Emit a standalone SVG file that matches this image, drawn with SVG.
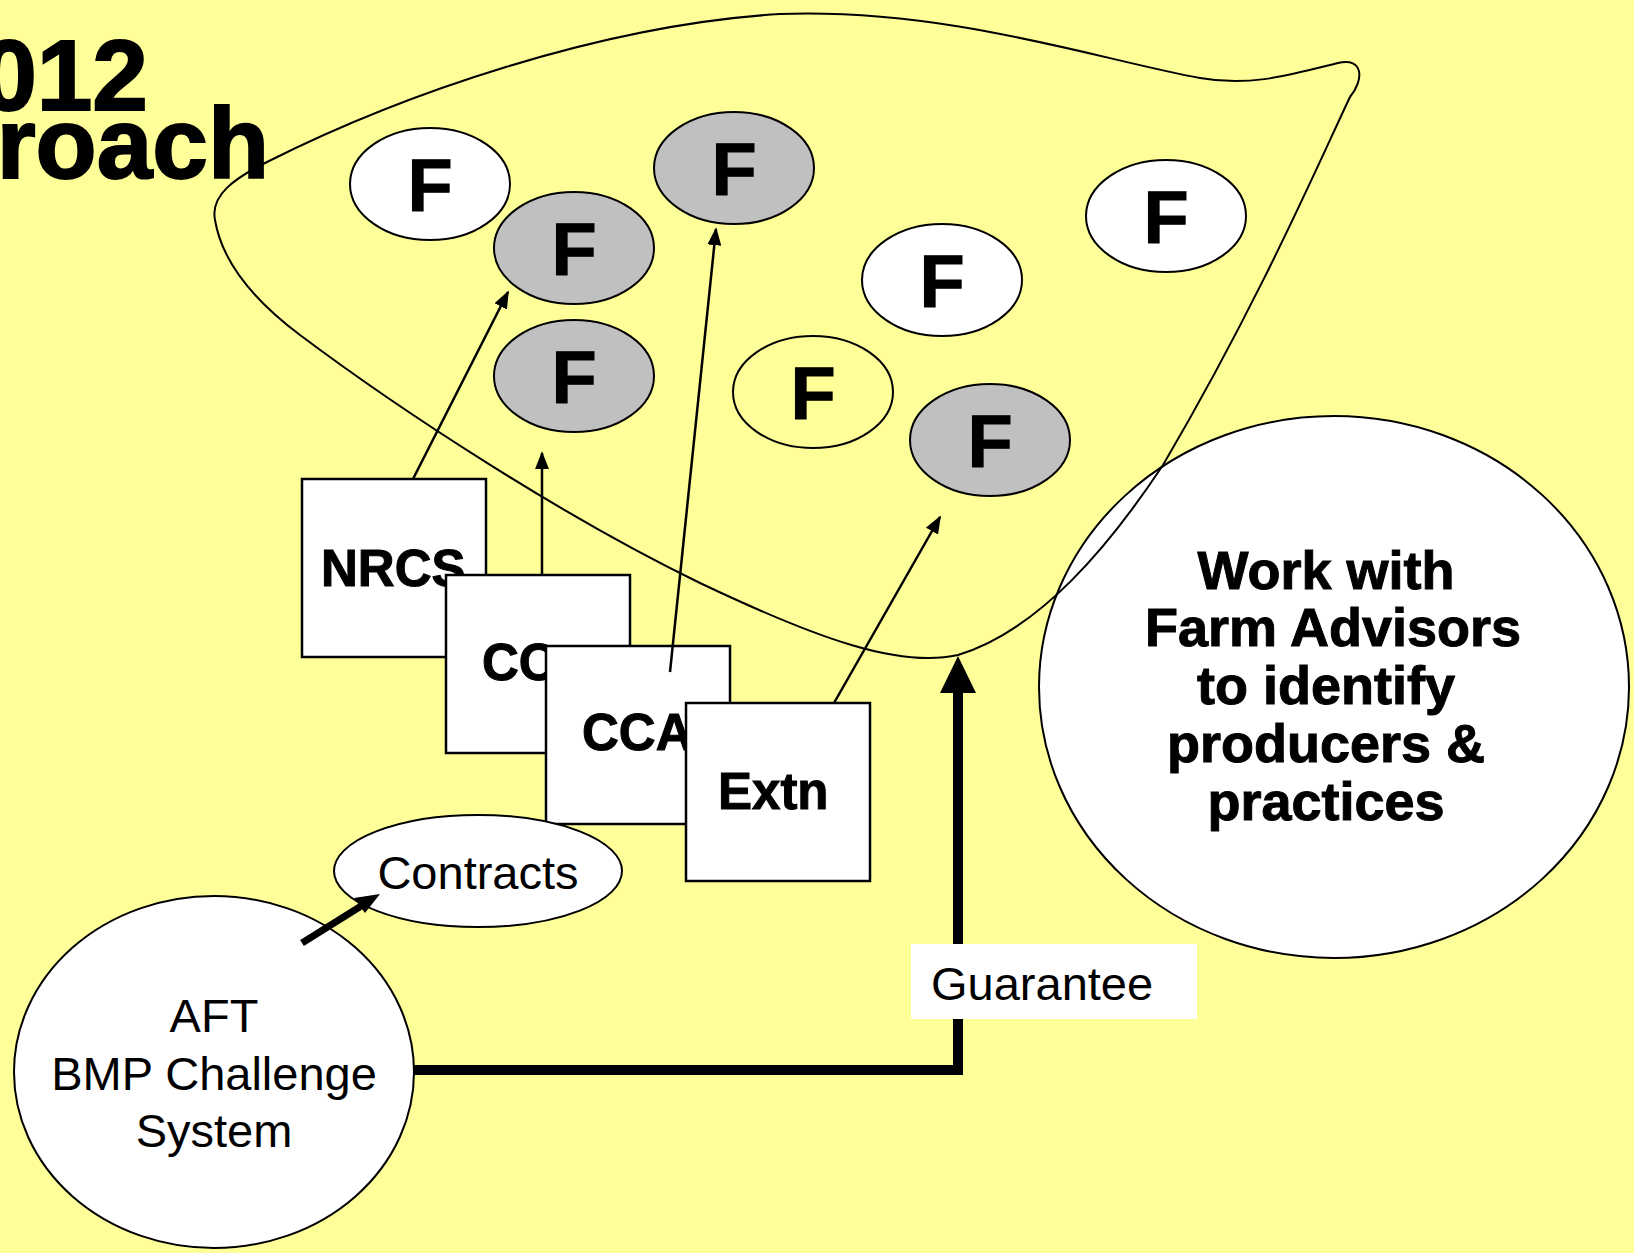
<svg xmlns="http://www.w3.org/2000/svg" width="1634" height="1253" viewBox="0 0 1634 1253">
<style>
.ln{stroke:#000;stroke-width:2;fill:none}
.ar{stroke:#000;stroke-width:2.5;fill:none}
.fw{fill:#fff;stroke:#000;stroke-width:2}
.fg{fill:#C0C0C0;stroke:#000;stroke-width:2}
.fy{fill:#FFFF99;stroke:#000;stroke-width:2}
.ft{font-family:"Liberation Sans",Arial,sans-serif;font-weight:bold;font-size:74px;text-anchor:middle;fill:#000;stroke:#000;stroke-width:1}
.bx{fill:#fff;stroke:#000;stroke-width:2.5}
.bt{font-family:"Liberation Sans",Arial,sans-serif;font-weight:bold;font-size:51px;fill:#000;stroke:#000;stroke-width:1}
.wt{font-family:"Liberation Sans",Arial,sans-serif;font-weight:bold;font-size:54px;fill:#000;stroke:#000;stroke-width:1;text-anchor:middle}
.rt{font-family:"Liberation Sans",Arial,sans-serif;font-size:47px;fill:#000}
.title{font-family:"Liberation Sans",Arial,sans-serif;font-weight:bold;font-size:100px;text-anchor:end;fill:#000;stroke:#000;stroke-width:2}
</style>
<defs>
<marker id="ah" viewBox="0 0 10 10" refX="9" refY="5" markerWidth="18" markerHeight="14" markerUnits="userSpaceOnUse" orient="auto" preserveAspectRatio="none"><path d="M0,0 L10,5 L0,10 Z" fill="#000"/></marker>
</defs>
<rect x="0" y="0" width="1634" height="1253" fill="#FFFF99"/>
<g id="title">
<text class="title" x="148" y="110">012</text>
<text class="title" x="269" y="178">roach</text>
</g>
<g id="work">
<ellipse class="fw" cx="1334" cy="687" rx="295" ry="271"/>
<text class="wt" x="1326" y="589">Work with</text>
<text class="wt" x="1333" y="646">Farm Advisors</text>
<text class="wt" x="1326" y="704">to identify</text>
<text class="wt" x="1326" y="762">producers &amp;</text>
<text class="wt" x="1326" y="820">practices</text>
</g>
<g id="farms">
<g id="f1"><ellipse class="fw" cx="430" cy="184" rx="80" ry="56"/><text class="ft" x="430" y="211">F</text></g>
<g id="f2"><ellipse class="fg" cx="574" cy="248" rx="80" ry="56"/><text class="ft" x="574" y="275">F</text></g>
<g id="f3"><ellipse class="fg" cx="734" cy="168" rx="80" ry="56"/><text class="ft" x="734" y="195">F</text></g>
<g id="f4"><ellipse class="fw" cx="1166" cy="216" rx="80" ry="56"/><text class="ft" x="1166" y="243">F</text></g>
<g id="f5"><ellipse class="fw" cx="942" cy="280" rx="80" ry="56"/><text class="ft" x="942" y="307">F</text></g>
<g id="f6"><ellipse class="fg" cx="574" cy="376" rx="80" ry="56"/><text class="ft" x="574" y="403">F</text></g>
<g id="f7"><ellipse class="fy" cx="813" cy="392" rx="80" ry="56"/><text class="ft" x="813" y="419">F</text></g>
<g id="f8"><ellipse class="fg" cx="990" cy="440" rx="80" ry="56"/><text class="ft" x="990" y="467">F</text></g>
</g>
<g id="blob">
<path class="ln" d="M215,220 C210,195 235,178 267,162 C400,95 600,25 780,14 C950,8 1100,60 1200,78 C1250,87 1290,75 1338,63 C1364,57 1364,80 1350,97 C1320,160 1260,300 1163,465 C1110,545 1040,630 958,655 C900,668 820,640 700,583 C560,515 400,410 300,335 C240,290 220,250 215,220 Z"/>
</g>
<g id="nrcs"><rect class="bx" x="302" y="479" width="184" height="178"/><text class="bt" x="321" y="586">NRCS</text></g>
<g id="co"><rect class="bx" x="446" y="575" width="184" height="178"/><text class="bt" x="482" y="680">CO</text></g>
<g id="cca"><rect class="bx" x="546" y="646" width="184" height="178"/><text class="bt" x="582" y="750">CCA</text></g>
<g id="extn"><rect class="bx" x="686" y="703" width="184" height="178"/><text class="bt" x="718" y="809">Extn</text></g>
<g id="contracts"><ellipse class="fw" cx="478" cy="871" rx="144" ry="56"/><text class="rt" text-anchor="middle" x="478" y="889">Contracts</text></g>
<g id="aft">
<ellipse class="fw" cx="214" cy="1072" rx="200" ry="176"/>
<text class="rt" text-anchor="middle" x="214" y="1032">AFT</text>
<text class="rt" text-anchor="middle" x="214" y="1090">BMP Challenge</text>
<text class="rt" text-anchor="middle" x="214" y="1147">System</text>
</g>
<g id="connectors">
<line class="ar" x1="413" y1="479" x2="508" y2="292" marker-end="url(#ah)"/>
<line class="ar" x1="542" y1="576" x2="542" y2="453" marker-end="url(#ah)"/>
<line class="ar" x1="670" y1="672" x2="716" y2="229" marker-end="url(#ah)"/>
<line class="ar" x1="834" y1="703" x2="940" y2="517" marker-end="url(#ah)"/>
<line x1="302" y1="943" x2="366" y2="903" stroke="#000" stroke-width="7"/>
<path d="M380,894 L354,898 L365,913 Z" fill="#000"/>
<path d="M414,1070 L958,1070 L958,690" fill="none" stroke="#000" stroke-width="10"/>
<path d="M958,656 L976,693 L940,693 Z" fill="#000"/>
</g>
<g id="guarantee">
<rect x="911" y="944" width="286" height="75" fill="#fff"/>
<text class="rt" x="931" y="1000">Guarantee</text>
</g>
</svg>
